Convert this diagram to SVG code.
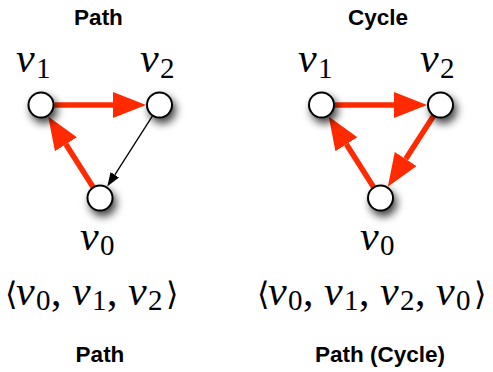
<svg xmlns="http://www.w3.org/2000/svg" width="493" height="372" viewBox="0 0 493 372">
<style>
.title{font-family:"Liberation Sans",Arial,sans-serif;font-weight:bold;font-size:22.5px;fill:#000;text-anchor:middle}
.math{font-family:"Liberation Serif","DejaVu Serif",serif;font-size:42px;fill:#000}
.v{font-style:italic}
.sub{font-size:29px;font-style:normal}
.br{font-family:"DejaVu Serif",serif;font-size:32px;font-style:normal}
.node{fill:#fff;stroke:#000;stroke-width:2;filter:url(#shadow)}
.red{fill:none;stroke:#ff2a00;stroke-width:5.5;marker-end:url(#redHead)}
.blk{fill:none;stroke:#000;stroke-width:1.3;marker-end:url(#blkHead)}
</style>
<defs>
<filter id="shadow" x="-100%" y="-100%" width="300%" height="300%">
<feDropShadow dx="3" dy="5" stdDeviation="4" flood-color="#000" flood-opacity="0.75"/>
</filter>
<marker id="redHead" markerUnits="userSpaceOnUse" viewBox="0 0 33 26" markerWidth="33" markerHeight="26" refX="0" refY="13" orient="auto">
<path d="M0,0 L33,13 L0,26 Z" fill="#ff2a00"/>
</marker>
<marker id="blkHead" markerUnits="userSpaceOnUse" viewBox="0 0 14 10" markerWidth="14" markerHeight="10" refX="0" refY="5" orient="auto">
<path d="M0,0 L14,5 L0,10 Z" fill="#000"/>
</marker>
</defs>

<text class="title" x="98.5" y="25">Path</text>
<text class="title" x="378" y="25">Cycle</text>

<g id="connectors">
<path class="red" d="M54.5,105 L113,105"/>
<path class="red" d="M93,187 L65.9,144.3"/>
<path class="blk" d="M152.5,115.9 L114.8,174.8"/>
<path class="red" d="M335,105 L394,105"/>
<path class="red" d="M373.5,187 L346.4,144.3"/>
<path class="red" d="M433.5,115.9 L405.7,159"/>
</g>

<g id="L_v1"><circle class="node" cx="41" cy="105" r="12.5"/>
<text class="math" y="72"><tspan class="v" x="16">v</tspan><tspan class="sub" x="36" y="78">1</tspan></text></g>
<g id="L_v2"><circle class="node" cx="159.5" cy="105" r="12.5"/>
<text class="math" y="72"><tspan class="v" x="140">v</tspan><tspan class="sub" x="160" y="78">2</tspan></text></g>
<g id="L_v0"><circle class="node" cx="100" cy="198" r="12.5"/>
<text class="math" y="250"><tspan class="v" x="80">v</tspan><tspan class="sub" x="100" y="255">0</tspan></text></g>

<g id="R_v1"><circle class="node" cx="321.5" cy="105" r="12.5"/>
<text class="math" y="72"><tspan class="v" x="298">v</tspan><tspan class="sub" x="318" y="78">1</tspan></text></g>
<g id="R_v2"><circle class="node" cx="440.5" cy="105" r="12.5"/>
<text class="math" y="72"><tspan class="v" x="420">v</tspan><tspan class="sub" x="440" y="78">2</tspan></text></g>
<g id="R_v0"><circle class="node" cx="380.5" cy="198" r="12.5"/>
<text class="math" y="250"><tspan class="v" x="360">v</tspan><tspan class="sub" x="380" y="255">0</tspan></text></g>

<g id="tuple_left">
<text class="math" y="305"><tspan class="br" x="5">⟨</tspan><tspan class="v" x="16">v</tspan><tspan class="sub" x="36" y="310">0</tspan><tspan x="51" y="305">,</tspan><tspan class="v" x="72">v</tspan><tspan class="sub" x="92" y="310">1</tspan><tspan x="107" y="305">,</tspan><tspan class="v" x="128">v</tspan><tspan class="sub" x="148" y="310">2</tspan><tspan class="br" x="166" y="305">⟩</tspan></text>
</g>
<g id="tuple_right">
<text class="math" y="305"><tspan class="br" x="257">⟨</tspan><tspan class="v" x="268">v</tspan><tspan class="sub" x="288" y="310">0</tspan><tspan x="303" y="305">,</tspan><tspan class="v" x="324">v</tspan><tspan class="sub" x="344" y="310">1</tspan><tspan x="359" y="305">,</tspan><tspan class="v" x="380">v</tspan><tspan class="sub" x="400" y="310">2</tspan><tspan x="415" y="305">,</tspan><tspan class="v" x="436">v</tspan><tspan class="sub" x="456" y="310">0</tspan><tspan class="br" x="474" y="305">⟩</tspan></text>
</g>

<text class="title" x="100" y="362">Path</text>
<text class="title" x="380" y="362">Path (Cycle)</text>
</svg>
